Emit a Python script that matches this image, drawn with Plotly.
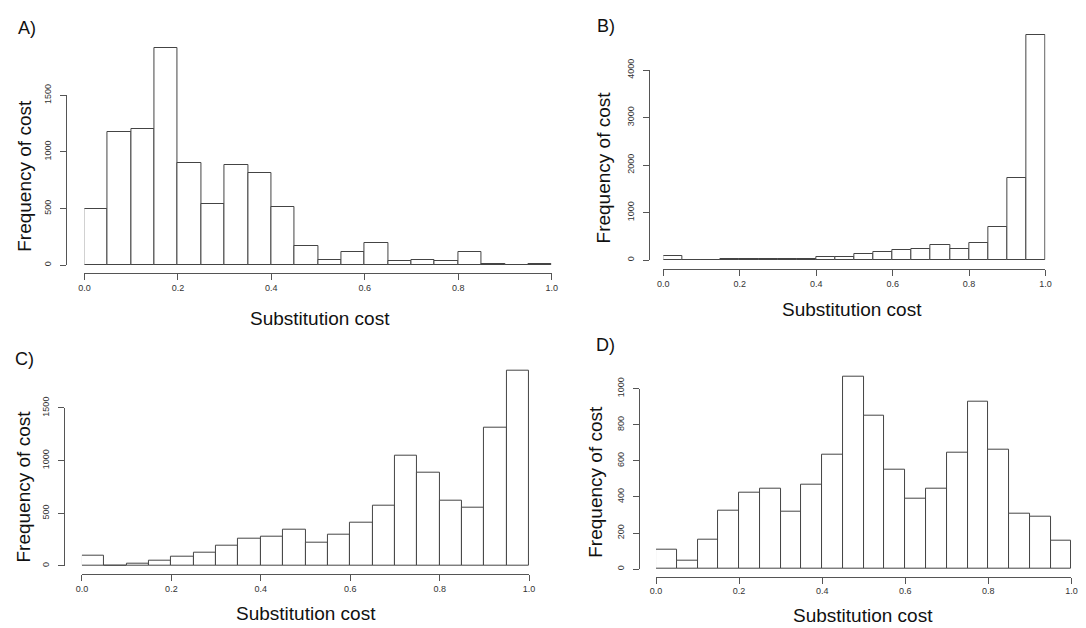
import plotly.graph_objects as go

# ---------------- data ----------------
bin_edges = [0.00, 0.05, 0.10, 0.15, 0.20, 0.25, 0.30, 0.35, 0.40, 0.45, 0.50,
             0.55, 0.60, 0.65, 0.70, 0.75, 0.80, 0.85, 0.90, 0.95, 1.00]

counts_A = [494, 1176, 1202, 1922, 905, 540, 881, 812, 514, 168,
            46, 113, 194, 38, 46, 38, 116, 12, 2, 6]
counts_B = [96, 7, 7, 14, 20, 24, 34, 34, 76, 76,
            138, 179, 220, 241, 324, 241, 365, 695, 1728, 4744]
counts_C = [96, 6, 19, 50, 84, 130, 196, 255, 273, 348,
            224, 295, 413, 571, 1043, 885, 615, 556, 1314, 1857]
counts_D = [105, 47, 161, 324, 424, 446, 319, 467, 634, 1067,
            848, 551, 389, 444, 647, 928, 663, 308, 288, 156]

x_tickvals = [0.0, 0.2, 0.4, 0.6, 0.8, 1.0]
x_ticktext = ["0.0", "0.2", "0.4", "0.6", "0.8", "1.0"]

panel_labels = ["A)", "B)", "C)", "D)"]
x_title = "Substitution cost"
y_title = "Frequency of cost"

# ---------------- layout geometry (pixels) ----------------
W, H = 1086, 628
panels = [
    dict(counts=counts_A, ytop=1500, dtick=500, x0=79.3, x1=551.8, y0=259.0, yt=86.0, top=0,
         yline=60.3, xline=267.5, lab=(21.5, 17.5), yt_pos=(18.7, 167.5), xt_pos=(318, 313)),
    dict(counts=counts_B, ytop=4000, dtick=1000, x0=664.7, x1=1051.1, y0=254.0, yt=60.3, top=0,
         yline=649.7, xline=263.3, lab=(607, 15), yt_pos=(604.5, 159.7), xt_pos=(855, 304)),
    dict(counts=counts_C, ytop=1500, dtick=500, x0=76.8, x1=528.9, y0=565.7, yt=404.7, top=330,
         yline=58.2, xline=574.0, lab=(19, 355), yt_pos=(18, 485), xt_pos=(303, 614)),
    dict(counts=counts_D, ytop=1000, dtick=200, x0=657.3, x1=1077.3, y0=569.0, yt=385.0, top=330,
         yline=639.9, xline=576.7, lab=(606, 340), yt_pos=(596.5, 480), xt_pos=(867, 616.7)),
]

FONT = "Liberation Sans, Arial, Helvetica, sans-serif"
LINE = "#555555"
TICKFONT = dict(family=FONT, size=9, color="#333333")

mids = [(bin_edges[i] + bin_edges[i + 1]) / 2 for i in range(len(bin_edges) - 1)]
widths = [bin_edges[i + 1] - bin_edges[i] for i in range(len(bin_edges) - 1)]

fig = go.Figure()
annotations = []
layout_axes = {}

for i, p in enumerate(panels):
    n = i + 1
    xa = "x" if n == 1 else f"x{n}"
    ya = "y" if n == 1 else f"y{n}"
    yd = f"y{n + 4}"                      # decoration axis (R-style detached y axis)
    # histogram bars on a hidden y axis that spans the whole panel height
    fig.add_trace(go.Bar(
        x=mids, y=p["counts"], width=widths,
        marker=dict(color="white", line=dict(color="#444444", width=1)),
        xaxis=xa, yaxis=ya, showlegend=False,
        hovertemplate="%{x}: %{y}<extra></extra>",
    ))
    # empty trace so the detached decoration y axis gets drawn
    fig.add_trace(go.Scatter(x=[], y=[], xaxis=xa, yaxis=yd, showlegend=False,
                             hoverinfo="skip"))
    xkey = "xaxis" if n == 1 else f"xaxis{n}"
    ykey = "yaxis" if n == 1 else f"yaxis{n}"
    dkey = f"yaxis{n + 4}"
    scale = p["ytop"] / (p["y0"] - p["yt"])          # data units per pixel
    layout_axes[xkey] = dict(
        domain=[p["x0"] / W, p["x1"] / W], range=[0, 1],
        anchor="free", position=1 - p["xline"] / H,
        showline=True, linecolor=LINE, linewidth=1,
        ticks="outside", ticklen=6, tickcolor=LINE, tickwidth=1,
        tickvals=x_tickvals, ticktext=x_ticktext, tickfont=TICKFONT,
        showgrid=False, zeroline=False, fixedrange=True,
    )
    layout_axes[ykey] = dict(
        domain=[1 - p["y0"] / H, 1 - p["top"] / H],
        range=[0, (p["y0"] - p["top"]) * scale],
        anchor=xa, visible=False, showgrid=False, zeroline=False, fixedrange=True,
    )
    layout_axes[dkey] = dict(
        domain=[1 - p["y0"] / H, 1 - p["yt"] / H], range=[0, p["ytop"]],
        anchor="free", position=p["yline"] / W,
        showline=True, linecolor=LINE, linewidth=1,
        ticks="outside", ticklen=6, tickcolor=LINE, tickwidth=1,
        tick0=0, dtick=p["dtick"], tickangle=-90, tickfont=TICKFONT,
        ticklabelstandoff=5,
        showgrid=False, zeroline=False, fixedrange=True,
    )
    annotations.append(dict(
        text=panel_labels[i], xref="paper", yref="paper",
        x=p["lab"][0] / W, y=1 - p["lab"][1] / H, xanchor="center", yanchor="middle",
        showarrow=False, font=dict(family=FONT, size=18, color="#111111")))
    annotations.append(dict(
        text=y_title, xref="paper", yref="paper", textangle=-90,
        x=p["yt_pos"][0] / W, y=1 - p["yt_pos"][1] / H, xanchor="center", yanchor="middle",
        showarrow=False, font=dict(family=FONT, size=19, color="#111111")))
    annotations.append(dict(
        text=x_title, xref="paper", yref="paper",
        x=p["xt_pos"][0] / W, y=1 - p["xt_pos"][1] / H, xanchor="center", yanchor="middle",
        showarrow=False, font=dict(family=FONT, size=19, color="#111111")))

fig.update_layout(
    width=W, height=H, margin=dict(l=0, r=0, t=0, b=0),
    paper_bgcolor="white", plot_bgcolor="rgba(0,0,0,0)",
    bargap=0, annotations=annotations, **layout_axes,
)

fig.write_html("out.html")
